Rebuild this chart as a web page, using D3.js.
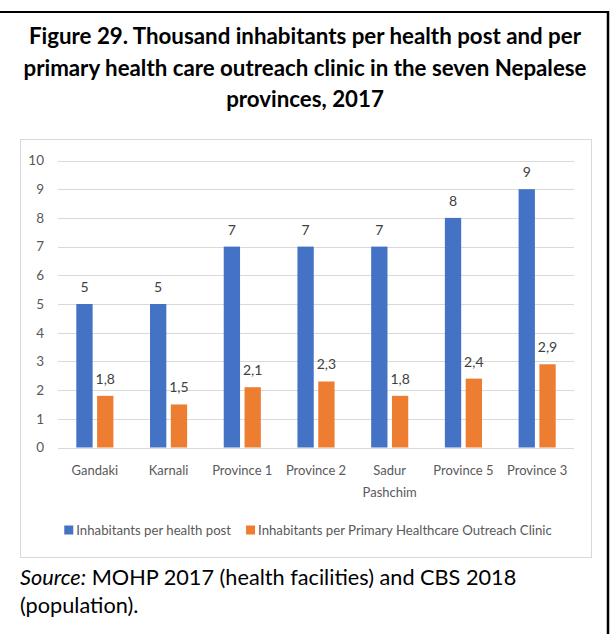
<!DOCTYPE html>
<html>
<head>
<meta charset="utf-8">
<script src="https://cdn.jsdelivr.net/npm/d3@7"></script>
<style>
  html, body { margin: 0; padding: 0; background: #fff; }
  svg { display: block; }
</style>
</head>
<body>
<svg id="chart" width="613" height="634"></svg>
<script>
// Provinces (category axis); "Sadur Pashchim" wraps onto two lines
const provinces = ["Gandaki", "Karnali", "Province 1", "Province 2", "Sadur Pashchim", "Province 5", "Province 3"];
const provinceLines = [["Gandaki"], ["Karnali"], ["Province 1"], ["Province 2"], ["Sadur", "Pashchim"], ["Province 5"], ["Province 3"]];

// Thousand inhabitants per facility
const healthPost = [5, 5, 7, 7, 7, 8, 9];
const outreachClinic = [1.8, 1.5, 2.1, 2.3, 1.8, 2.4, 2.9];

const seriesNames = ["Inhabitants per health post", "Inhabitants per Primary Healthcare Outreach Clinic"];
const seriesColors = ["#4472c4", "#ed7d31"];

const yTicks = [0, 1, 2, 3, 4, 5, 6, 7, 8, 9, 10];

const titleLines = [
  "Figure 29. Thousand inhabitants per health post and per",
  "primary health care outreach clinic in the seven Nepalese",
  "provinces, 2017"
];

const svg = d3.select("#chart");
const FONT = "Lato, 'Open Sans', sans-serif";

// Page frame: rule along the top and the right edge
svg.append("line").attr("x1", 0).attr("x2", 609).attr("y1", 12).attr("y2", 12)
  .attr("stroke", "#000").attr("stroke-width", 2);
svg.append("line").attr("x1", 608).attr("x2", 608).attr("y1", 11).attr("y2", 634)
  .attr("stroke", "#000").attr("stroke-width", 2.5);

// Title
svg.append("g").selectAll("text").data(titleLines).join("text")
  .attr("x", 305)
  .attr("y", (d, i) => 44 + i * 31.5)
  .attr("text-anchor", "middle")
  .attr("font-family", FONT)
  .attr("font-weight", "bold")
  .attr("font-size", 22.3)
  .attr("fill", "#000")
  .text(d => d);

// Chart area box
svg.append("rect").attr("x", 20.5).attr("y", 139.5).attr("width", 571).attr("height", 418)
  .attr("fill", "#fff").attr("stroke", "#d9d9d9").attr("stroke-width", 1);

// Scales
const x0 = d3.scaleBand().domain(provinces).range([58, 574]).paddingInner(0).paddingOuter(0);
const x1 = d3.scaleBand().domain([0, 1]).range([0, x0.bandwidth()]).paddingInner(0.216).paddingOuter(0.88);
const y = d3.scaleLinear().domain([0, 10]).range([447.5, 160.5]);

// Gridlines
svg.append("g").selectAll("line").data(yTicks).join("line")
  .attr("x1", 58).attr("x2", 574)
  .attr("y1", d => Math.round(y(d)) + 0.5).attr("y2", d => Math.round(y(d)) + 0.5)
  .attr("stroke", "#d9d9d9").attr("stroke-width", 1);

// Value axis labels
const yAxis = svg.append("g").attr("transform", "translate(44,0)")
  .call(d3.axisLeft(y).tickValues(yTicks).tickSize(0).tickPadding(0).tickFormat(d3.format("d")));
yAxis.select(".domain").remove();
yAxis.selectAll("text").attr("font-family", FONT).attr("font-size", 13.5).attr("fill", "#595959");

// Bars
const seriesValues = [healthPost, outreachClinic];
const groups = svg.append("g").selectAll("g").data(provinces).join("g")
  .attr("transform", d => `translate(${x0(d)},0)`);

groups.selectAll("rect")
  .data((d, i) => seriesValues.map((vals, s) => ({ s, v: vals[i] })))
  .join("rect")
  .attr("x", d => x1(d.s))
  .attr("width", x1.bandwidth())
  .attr("y", d => y(d.v))
  .attr("height", d => y(0) - y(d.v))
  .attr("fill", d => seriesColors[d.s]);

// Data labels (decimal comma)
const fmt = v => d3.format(".1~f")(v).replace(".", ",");
groups.selectAll("text.val")
  .data((d, i) => seriesValues.map((vals, s) => ({ s, v: vals[i] })))
  .join("text")
  .attr("class", "val")
  .attr("x", d => x1(d.s) + x1.bandwidth() / 2)
  .attr("y", d => y(d.v) - 12)
  .attr("text-anchor", "middle")
  .attr("font-family", FONT)
  .attr("font-size", 14)
  .attr("fill", "#404040")
  .text(d => fmt(d.v));

// Category labels
const cat = svg.append("g").selectAll("text").data(provinces).join("text")
  .attr("x", d => x0(d) + x0.bandwidth() / 2)
  .attr("y", 475)
  .attr("text-anchor", "middle")
  .attr("font-family", FONT)
  .attr("font-size", 13)
  .attr("fill", "#595959");
cat.selectAll("tspan").data((d, i) => provinceLines[i]).join("tspan")
  .attr("x", function () { return d3.select(this.parentNode).attr("x"); })
  .attr("dy", (d, i) => i === 0 ? 0 : 21.5)
  .text(d => d);

// Legend, centred under the plot
const legend = svg.append("g");
const items = legend.selectAll("g").data(seriesNames).join("g");
items.append("rect").attr("width", 9).attr("height", 9).attr("y", 525.5)
  .attr("fill", (d, i) => seriesColors[i]);
items.append("text").attr("x", 12).attr("y", 534.5)
  .attr("font-family", FONT).attr("font-size", 13.2).attr("fill", "#595959")
  .text(d => d);
let cursor = 0;
const widths = [];
items.each(function () {
  const w = 12 + this.querySelector("text").getComputedTextLength();
  widths.push(w);
});
const gapBetween = 15;
const total = widths.reduce((a, b) => a + b, 0) + gapBetween;
cursor = 308 - total / 2;
items.attr("transform", (d, i) => {
  const t = `translate(${cursor},0)`;
  cursor += widths[i] + gapBetween;
  return t;
});

// Source note
const src = svg.append("text").attr("x", 20).attr("y", 585)
  .attr("font-family", FONT).attr("font-size", 21.7).attr("fill", "#000");
src.append("tspan").attr("font-style", "italic").text("Source:");
src.append("tspan").text(" MOHP 2017 (health facilities) and CBS 2018");
svg.append("text").attr("x", 20).attr("y", 613)
  .attr("font-family", FONT).attr("font-size", 21.7).attr("fill", "#000")
  .text("(population).");
</script>
</body>
</html>
